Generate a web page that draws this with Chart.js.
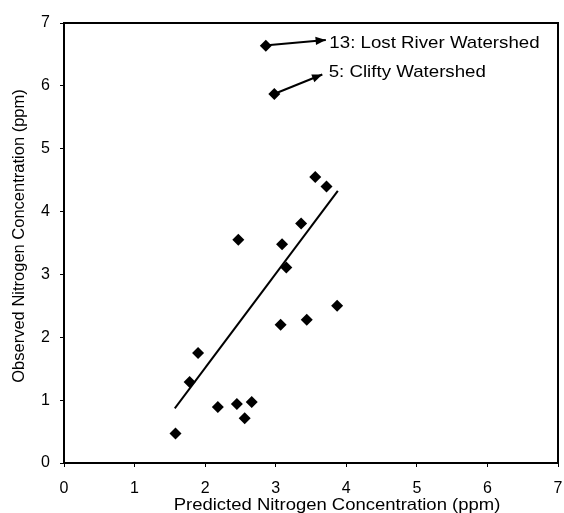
<!DOCTYPE html>
<html>
<head>
<meta charset="utf-8">
<script src="https://cdn.jsdelivr.net/npm/chart.js@4.4.0/dist/chart.umd.min.js"></script>
<style>
  html, body { margin: 0; padding: 0; background: #fff; }
  #wrap { width: 564px; height: 513px; }
</style>
</head>
<body>
<div id="wrap"><canvas id="nitrogenChart" width="564" height="513"></canvas></div>
<script>
// predicted vs observed nitrogen (ppm)
const predicted = [2.86, 2.98, 3.56, 3.72, 3.36, 2.47, 3.09, 3.15, 3.87, 3.44, 3.07, 1.90, 1.78, 2.18, 2.45, 2.66, 2.56, 1.58];
const observed  = [6.64, 5.87, 4.55, 4.40, 3.81, 3.55, 3.48, 3.11, 2.50, 2.28, 2.20, 1.75, 1.29, 0.89, 0.94, 0.97, 0.71, 0.47];

// regression line end points
const fitX = [1.57, 3.88];
const fitY = [0.87, 4.33];

// annotation arrows (from point to label) and labels
const lostArrowX = [2.92, 3.71];
const lostArrowY = [6.65, 6.73];
const cliftyArrowX = [3.02, 3.66];
const cliftyArrowY = [5.89, 6.18];
const noteText = ['13: Lost River Watershed', '5: Clifty Watershed'];
const noteX = [3.76, 3.75];
const noteY = [6.68, 6.22];

const axisTicks = [0, 1, 2, 3, 4, 5, 6, 7];

const toXY = (xs, ys) => xs.map((x, i) => ({ x: x, y: ys[i] }));

const FONT = '"Liberation Sans", Arial, sans-serif';

// text in the scan is a bit wider than it is tall
function wideText(ctx, text, x, y, stretch) {
    ctx.save();
    ctx.translate(x, y);
    ctx.scale(stretch, 1);
    ctx.fillText(text, 0, 0);
    ctx.restore();
}

const framePlugin = {
    id: 'frame',
    afterDraw(chart) {
        const ctx = chart.ctx;
        const a = chart.chartArea;
        const xs = chart.scales.x, ys = chart.scales.y;
        ctx.save();
        ctx.strokeStyle = '#000';
        ctx.lineWidth = 2;
        ctx.strokeRect(a.left, a.top, a.right - a.left, a.bottom - a.top);

        // arrowheads at the label end of each arrow
        [[lostArrowX, lostArrowY], [cliftyArrowX, cliftyArrowY]].forEach(([ax, ay]) => {
            const x0 = xs.getPixelForValue(ax[0]), y0 = ys.getPixelForValue(ay[0]);
            const x1 = xs.getPixelForValue(ax[1]), y1 = ys.getPixelForValue(ay[1]);
            const ang = Math.atan2(y1 - y0, x1 - x0);
            const len = 11, w = 0.38;
            ctx.beginPath();
            ctx.moveTo(x1, y1);
            ctx.lineTo(x1 - len * Math.cos(ang - w), y1 - len * Math.sin(ang - w));
            ctx.lineTo(x1 - len * Math.cos(ang + w), y1 - len * Math.sin(ang + w));
            ctx.closePath();
            ctx.fillStyle = '#000';
            ctx.fill();
        });

        // labels
        ctx.fillStyle = '#000';
        ctx.font = '17px ' + FONT;
        ctx.textBaseline = 'middle';
        ctx.textAlign = 'left';
        noteText.forEach((t, i) => {
            wideText(ctx, t, xs.getPixelForValue(noteX[i]), ys.getPixelForValue(noteY[i]), 1.1);
        });

        // axis titles
        ctx.font = '16.5px ' + FONT;
        ctx.textAlign = 'center';
        ctx.textBaseline = 'alphabetic';
        wideText(ctx, 'Predicted Nitrogen Concentration (ppm)', 337, 510, 1.12);
        ctx.translate(24, 236);
        ctx.rotate(-Math.PI / 2);
        ctx.fillText('Observed Nitrogen Concentration (ppm)', 0, 0);
        ctx.restore();
    }
};

new Chart(document.getElementById('nitrogenChart').getContext('2d'), {
    type: 'scatter',
    data: {
        datasets: [
            {
                label: 'Watersheds',
                data: toXY(predicted, observed),
                pointStyle: 'rectRot',
                pointRadius: 6,
                pointHoverRadius: 6,
                backgroundColor: '#000',
                borderColor: '#000',
                borderWidth: 0
            },
            {
                label: 'Fit',
                type: 'line',
                data: toXY(fitX, fitY),
                borderColor: '#000',
                borderWidth: 2,
                pointRadius: 0,
                fill: false
            },
            {
                label: 'Lost River arrow',
                type: 'line',
                data: toXY(lostArrowX, lostArrowY),
                borderColor: '#000',
                borderWidth: 2,
                pointRadius: 0,
                fill: false
            },
            {
                label: 'Clifty arrow',
                type: 'line',
                data: toXY(cliftyArrowX, cliftyArrowY),
                borderColor: '#000',
                borderWidth: 2,
                pointRadius: 0,
                fill: false
            }
        ]
    },
    options: {
        responsive: false,
        animation: false,
        layout: { padding: { top: 23, right: 0, left: 0, bottom: 0 } },
        scales: {
            x: {
                type: 'linear',
                min: 0,
                max: 7,
                afterBuildTicks: (s) => { s.ticks = axisTicks.map(v => ({ value: v })); },
                afterFit: (s) => { s.height = 50; s.paddingLeft = 0; s.paddingRight = 4; },
                grid: { drawOnChartArea: false, drawTicks: true, tickLength: 4, color: '#000' },
                border: { color: '#000', width: 2 },
                ticks: { color: '#000', font: { family: FONT, size: 16 }, padding: 12, maxRotation: 0 }
            },
            y: {
                type: 'linear',
                min: 0,
                max: 7,
                afterBuildTicks: (s) => { s.ticks = axisTicks.map(v => ({ value: v })); },
                afterFit: (s) => { s.width = 64; s.paddingTop = 0; s.paddingBottom = 0; },
                grid: { drawOnChartArea: false, drawTicks: true, tickLength: 4, color: '#000' },
                border: { color: '#000', width: 2 },
                ticks: { color: '#000', font: { family: FONT, size: 16 }, padding: 10 }
            }
        },
        plugins: {
            legend: { display: false },
            tooltip: { enabled: false }
        }
    },
    plugins: [framePlugin]
});
</script>
</body>
</html>
